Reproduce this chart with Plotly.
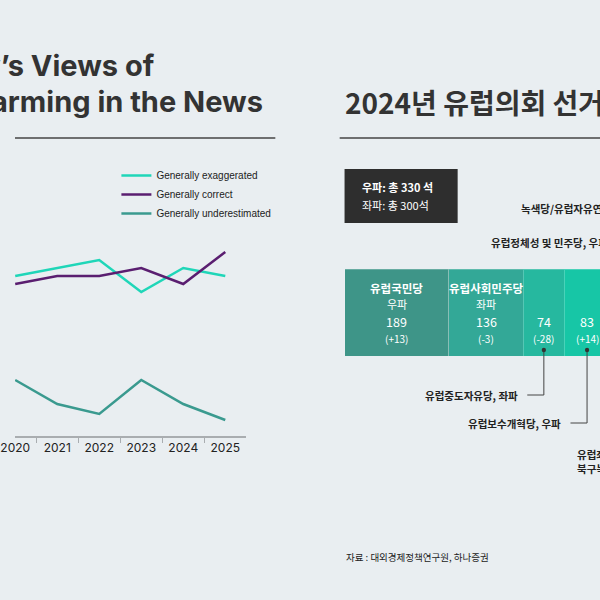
import plotly.graph_objects as go

# ---- 왼쪽: 선 그래프 데이터 ----
years = ['2020', '2021', '2022', '2023', '2024', '2025']
exaggerated = [40, 42, 44, 36, 42, 40]
correct = [38, 40, 40, 42, 38, 46]
underestimated = [14, 8, 5.5, 14, 8, 4]
series_names = ['Generally exaggerated', 'Generally correct', 'Generally underestimated']

# ---- 오른쪽: 2024 유럽의회 의석 ----
parties = ['유럽국민당', '유럽사회민주당', '유럽중도자유당', '유럽보수개혁당']
sides = ['우파', '좌파', '좌파', '우파']
seats = [189, 136, 74, 83]
changes = ['(+13)', '(-3)', '(-28)', '(+14)']
bloc_totals = ['우파: 총 330 석', '좌파: 총 300석']

BG = '#e9eef1'
DARK = '#333333'
LINE_COLORS = ['#1fd6b8', '#5a1e70', '#3a9a8f']
BAR_COLORS = ['#3e9588', '#33a897', '#26b89f', '#17c6a6']
LATIN = 'Inter, Liberation Sans, sans-serif'
KR = 'Noto Sans CJK KR, sans-serif'
W = H = 600


def px(p):
    return p / W


def py(p):
    return 1 - p / H


fig = go.Figure()

for name, vals, col in zip(series_names, [exaggerated, correct, underestimated], LINE_COLORS):
    fig.add_trace(go.Scatter(x=years, y=vals, mode='lines', name=name,
                             line=dict(color=col, width=2.5),
                             xaxis='x', yaxis='y', hoverinfo='skip'))

# 누적 막대
for i, (p, s) in enumerate(zip(parties, seats)):
    fig.add_trace(go.Bar(x=[s], y=['seats'], orientation='h', name=p,
                         marker=dict(color=BAR_COLORS[i],
                                     line=dict(color='rgba(255,255,255,0.22)', width=1)),
                         width=1, showlegend=False, hoverinfo='skip',
                         xaxis='x2', yaxis='y2'))

# 막대 축척 (px / 석)
bar_x0, bar_x1 = 338, 600
seat_range = 464
k = (bar_x1 - bar_x0) / seat_range

annotations = []
shapes = []

# 제목들
annotations += [
    dict(text='<b>Society’s Views of</b>', x=px(146), y=py(66), xanchor='right',
         font=dict(family=LATIN, size=29, color=DARK)),
    dict(text='<b>Global Warming in the News</b>', x=px(256), y=py(101), xanchor='right',
         font=dict(family=LATIN, size=29, color=DARK)),
    dict(text='<b>2024년 유럽의회 선거 결과</b>', x=px(336), y=py(102), xanchor='left',
         font=dict(family=KR, size=28, color=DARK)),
]
shapes += [
    dict(type='line', xref='paper', yref='paper', x0=0, x1=px(267), y0=py(138), y1=py(138),
         line=dict(color='#444444', width=1.5)),
    dict(type='line', xref='paper', yref='paper', x0=px(333), x1=1, y0=py(138), y1=py(138),
         line=dict(color='#444444', width=1.5)),
]

# 진영별 의석 박스
shapes.append(dict(type='rect', xref='paper', yref='paper', x0=px(338), x1=px(454),
                   y0=py(223), y1=py(169), fillcolor='#2e2e2e', line=dict(width=0)))
annotations += [
    dict(text='<b>' + bloc_totals[0] + '</b>', x=px(354), y=py(187), xanchor='left',
         font=dict(family=KR, size=11, color='white')),
    dict(text=bloc_totals[1], x=px(354), y=py(205), xanchor='left',
         font=dict(family=KR, size=11, color='white')),
]

# 막대 내부 라벨
cum = 0
for i, s in enumerate(seats):
    mid = cum + s / 2
    cum += s
    if s > 100:
        annotations += [
            dict(text='<b>' + parties[i] + '</b>', x=mid, xref='x2', y=py(288),
                 font=dict(family=KR, size=11.5, color='white')),
            dict(text=sides[i], x=mid, xref='x2', y=py(304),
                 font=dict(family=KR, size=11, color='white')),
        ]
    annotations += [
        dict(text=str(s), x=mid, xref='x2', y=py(321),
             font=dict(family=KR, size=12.5, color='white')),
        dict(text=changes[i], x=mid, xref='x2', y=py(339),
             font=dict(family=KR, size=10, color='white')),
    ]
    if s <= 100:
        # 막대 밖 설명선
        ly = {2: 395, 3: 423}[i]
        shapes += [
            dict(type='line', xref='x2', yref='paper', x0=mid, x1=mid, y0=py(350), y1=py(ly),
                 line=dict(color='#444444', width=1)),
            dict(type='line', xref='x2', yref='paper', x0=mid, x1=mid - 17 / k,
                 y0=py(ly), y1=py(ly), line=dict(color='#444444', width=1)),
            dict(type='circle', xref='x2', yref='paper', x0=mid - 2.2 / k, x1=mid + 2.2 / k,
                 y0=py(352.2), y1=py(347.8), fillcolor='#333333', line=dict(width=0)),
        ]
        annotations.append(dict(text='<b>' + parties[i] + ', ' + sides[i] + '</b>',
                                x=mid, xref='x2', xshift=-24, y=py(ly), xanchor='right',
                                font=dict(family=KR, size=10.5, color='#222222')))

# 화면 밖으로 이어지는 다른 정당 라벨
annotations += [
    dict(text='<b>녹색당/유럽자유연맹, 좌파</b>', x=px(517), y=py(208), xanchor='left',
         font=dict(family=KR, size=10.5, color='#222222')),
    dict(text='<b>유럽정체성 및 민주당, 우파</b>', x=px(486), y=py(242), xanchor='left',
         font=dict(family=KR, size=10.5, color='#222222')),
    dict(text='<b>유럽좌파연합/</b>', x=px(574), y=py(454), xanchor='left',
         font=dict(family=KR, size=10.5, color='#222222')),
    dict(text='<b>북구녹색좌파, 좌파</b>', x=px(574), y=py(468), xanchor='left',
         font=dict(family=KR, size=10.5, color='#222222')),
    dict(text='자료 : 대외경제정책연구원, 하나증권', x=px(337), y=py(557), xanchor='left',
         font=dict(family=KR, size=9.5, color='#222222')),
]

for a in annotations:
    a.setdefault('xref', 'paper')
    a.setdefault('yref', 'paper')
    a.setdefault('showarrow', False)
    a.setdefault('yanchor', 'middle')

fig.update_layout(
    width=W, height=H, autosize=False,
    margin=dict(l=0, r=0, t=0, b=0, pad=0),
    paper_bgcolor=BG, plot_bgcolor=BG,
    barmode='stack',
    showlegend=True,
    legend=dict(x=px(104), y=py(161), xanchor='left', yanchor='top', traceorder='normal',
                bgcolor='rgba(0,0,0,0)',
                font=dict(family='Liberation Sans, sans-serif', size=10, color='#222222'),
                itemwidth=30),
    xaxis=dict(domain=[0, px(237)], type='category', range=[-0.005, 5.495], autorange=False,
               showgrid=False, zeroline=False, showline=True, linecolor='#a9adb0', linewidth=2,
               ticks='outside', tickson='boundaries', ticklen=5, tickcolor='#a9adb0',
               tickfont=dict(family=LATIN, size=12, color='#222222'), anchor='y'),
    yaxis=dict(domain=[py(436), py(156)], range=[0, 70], visible=False, fixedrange=True),
    xaxis2=dict(domain=[px(bar_x0), 1], range=[0, seat_range], visible=False, anchor='y2'),
    yaxis2=dict(domain=[py(356), py(269)], range=[-0.5, 0.5], visible=False, anchor='x2'),
    annotations=annotations,
    shapes=shapes,
)

fig.write_html('out.html', config={'displayModeBar': False},
               post_script="document.body.style.margin='0';")
